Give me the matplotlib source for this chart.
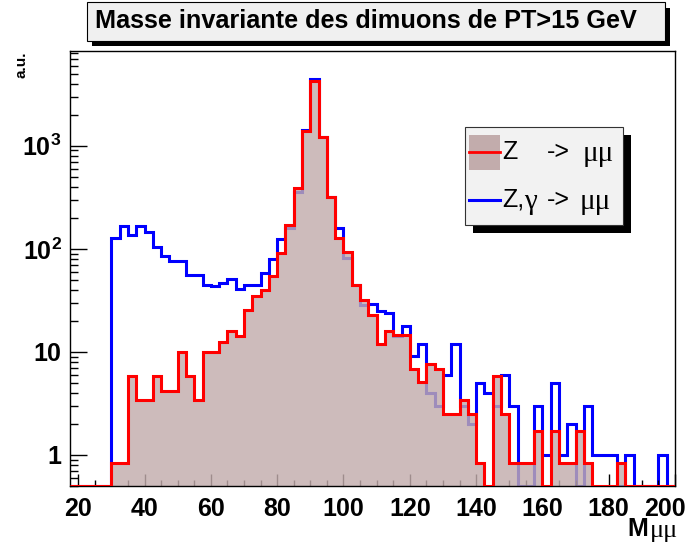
import numpy as np
import matplotlib.pyplot as plt
import matplotlib.transforms as mtransforms
from matplotlib.patches import Rectangle
from matplotlib.lines import Line2D
from matplotlib.ticker import FixedLocator, MultipleLocator, LogLocator, NullFormatter

plt.rcParams['font.family'] = ['Liberation Sans', 'DejaVu Sans']
plt.rcParams['mathtext.fontset'] = 'custom'
plt.rcParams['mathtext.rm'] = 'Liberation Sans:bold'
plt.rcParams['mathtext.bf'] = 'Liberation Sans:bold'

# 2.5 GeV bins from 17.5 to 200
edges = np.arange(17.5, 200.01, 2.5)

z_mumu = [0, 0, 0, 0, 0, 0.84, 0.84, 5.9, 3.4, 3.4,
          5.9, 4.2, 4.2, 10, 5.9, 3.4, 10, 10, 12.5, 16,
          14.4, 25.7, 35, 40, 55, 91, 171, 393, 1390, 4270,
          1208, 315, 127, 94, 45, 31.7, 23, 12, 16, 14.5,
          14.5, 6.9, 5.1, 7.7, 6.9, 2.5, 2.5, 3.4, 2.5, 0.84,
          0, 5.9, 2.5, 0.84, 0.84, 0.84, 1.7, 0, 1.7, 0.84,
          0.84, 1.7, 0.84, 0, 0, 0, 0.84, 0, 0, 0,
          0, 0, 0]
zg_mumu = [0, 0, 0, 0, 0, 127, 165, 137, 165, 144,
           105, 86, 77, 77, 56, 56, 45, 44, 47, 51,
           41, 45, 45, 58, 80, 124, 159, 359, 1420, 4430,
           1208, 315, 159, 81, 45, 28.8, 29.4, 24.8, 23.9, 14.4,
           18, 9.1, 12, 4.0, 3.0, 6.0, 12, 3.0, 2.0, 5.0,
           4.0, 3.0, 6.0, 3.0, 0, 0, 3.0, 1.0, 5.0, 1.0,
           2.0, 0, 3.0, 1.0, 1.0, 1.0, 0, 1.0, 0, 0,
           0, 1.0, 0]

YMIN, YMAX = 0.5, 8300
W, H = 692, 547


def fx(px):
    return px / W


def fy(py):
    return 1 - py / H


# empty bins sit on the bottom of the frame, like ROOT does in log scale
red = np.where(np.array(z_mumu) > 0, z_mumu, YMIN)
blue = np.where(np.array(zg_mumu) > 0, zg_mumu, YMIN)

fig = plt.figure(figsize=(W / 100, H / 100), dpi=100)
ax = fig.add_axes([fx(70), fy(486), fx(675) - fx(70), fy(51) - fy(486)])

fill_col = '#c2acac'
ax.stairs(blue, edges, color='#0000ff', lw=2.2, baseline=None, zorder=1)
ax.stairs(red, edges, fill=True, baseline=YMIN, color=fill_col, alpha=0.82, zorder=2)
ax.stairs(red, edges, color='#ff0000', lw=2.2, baseline=None, zorder=3)

ax.set_yscale('log')
ax.set_xlim(17.5, 200)
ax.set_ylim(YMIN, YMAX)

ax.xaxis.set_major_locator(FixedLocator(np.arange(20, 201, 20)))
ax.xaxis.set_minor_locator(MultipleLocator(5))
ax.yaxis.set_major_locator(FixedLocator([1, 10, 100, 1000]))
ax.yaxis.set_minor_locator(LogLocator(base=10, subs=np.arange(2, 10)))
ax.yaxis.set_minor_formatter(NullFormatter())
ax.set_yticklabels(['1', '10', r'$\mathbf{10^{2}}$', r'$\mathbf{10^{3}}$'])
ax.set_xticklabels([str(v) for v in range(20, 201, 20)])

ax.tick_params(axis='both', which='both', direction='in', top=False, right=False,
               width=1.0, labelsize=18)
ax.tick_params(axis='x', which='major', length=9, pad=8)
ax.tick_params(axis='x', which='minor', length=4.5)
ax.tick_params(axis='y', which='major', length=12, pad=6)
ax.tick_params(axis='y', which='minor', length=5.5)
for lab in ax.get_xticklabels() + ax.get_yticklabels():
    lab.set_fontweight('bold')
# last x label is pulled inside the canvas
last = ax.get_xticklabels()[-1]
last.set_transform(last.get_transform() +
                   mtransforms.ScaledTranslation(-10 / 100, 0, fig.dpi_scale_trans))
for sp in ax.spines.values():
    sp.set_linewidth(1.0)

# axis titles
fig.text(fx(21), fy(52), 'a.u.', rotation=90, ha='center', va='top',
         fontsize=11, fontweight='bold')
fig.text(fx(627), fy(529), 'M', ha='left', va='center', fontsize=18, fontweight='bold')
fig.text(fx(650), fy(531), 'μμ', ha='left', va='center', fontsize=19,
         family='Liberation Serif')

# title box with shadow
fig.patches.append(Rectangle((fx(92), fy(46)), fx(670) - fx(92), fy(8) - fy(46),
                             transform=fig.transFigure, facecolor='black',
                             edgecolor='none', zorder=5))
fig.patches.append(Rectangle((fx(87), fy(41)), fx(665) - fx(87), fy(2) - fy(41),
                             transform=fig.transFigure, facecolor='#f0f0f0',
                             edgecolor='black', lw=0.8, zorder=6))
fig.text(fx(95), fy(21), 'Masse invariante des dimuons de PT>15 GeV', ha='left',
         va='center', fontsize=18.2, fontweight='bold', zorder=7)

# legend with shadow
fig.patches.append(Rectangle((fx(473), fy(233)), fx(631) - fx(473), fy(135) - fy(233),
                             transform=fig.transFigure, facecolor='black',
                             edgecolor='none', zorder=5))
fig.patches.append(Rectangle((fx(465), fy(225)), fx(623) - fx(465), fy(127) - fy(225),
                             transform=fig.transFigure, facecolor='#f2f2f2',
                             edgecolor='#333333', lw=0.8, zorder=6))
fig.patches.append(Rectangle((fx(469), fy(170)), fx(500) - fx(469), fy(135) - fy(170),
                             transform=fig.transFigure, facecolor=fill_col,
                             edgecolor='none', zorder=7))
fig.lines.append(Line2D([fx(469), fx(500)], [fy(152), fy(152)], transform=fig.transFigure,
                        color='#ff0000', lw=2.0, zorder=8))
fig.lines.append(Line2D([fx(469), fx(500)], [fy(200), fy(200)], transform=fig.transFigure,
                        color='#0000ff', lw=2.2, zorder=8))
fig.text(fx(502), fy(152), 'Z', ha='left', va='center', fontsize=18, zorder=8)
fig.text(fx(547), fy(152), '->', ha='left', va='center', fontsize=18, zorder=8)
fig.text(fx(583), fy(154), 'μμ', ha='left', va='center', fontsize=21,
         family='Liberation Serif', zorder=8)
fig.text(fx(502), fy(200), 'Z,', ha='left', va='center', fontsize=18, zorder=8)
fig.text(fx(524), fy(202), 'γ', ha='left', va='center', fontsize=21,
         family='Liberation Serif', zorder=8)
fig.text(fx(547), fy(200), '->', ha='left', va='center', fontsize=18, zorder=8)
fig.text(fx(580), fy(202), 'μμ', ha='left', va='center', fontsize=21,
         family='Liberation Serif', zorder=8)

fig.savefig('out.png', dpi=100)
